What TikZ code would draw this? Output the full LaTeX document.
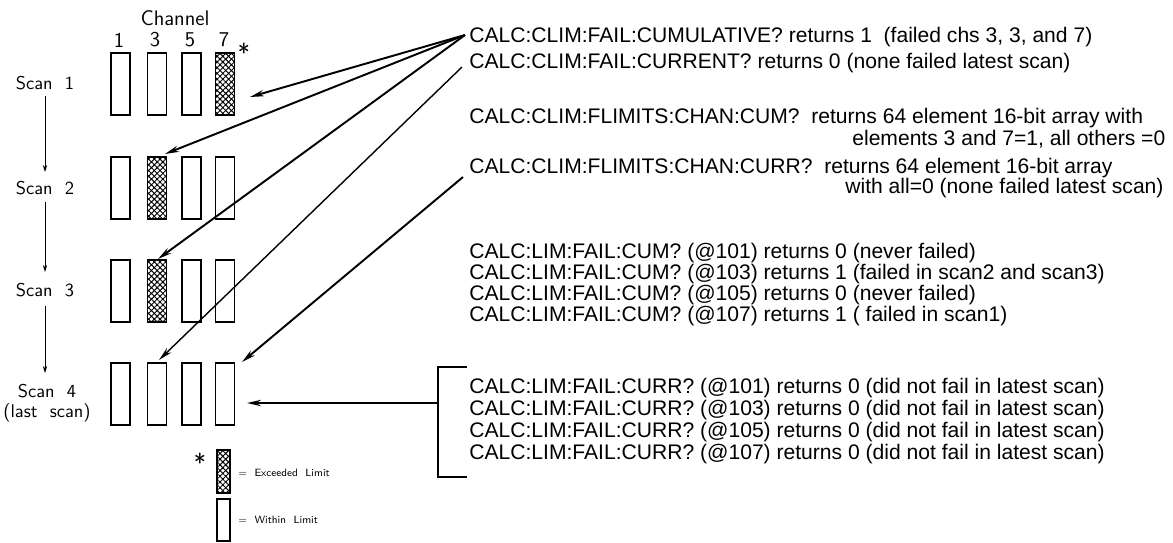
\documentclass[tikz,border=0pt]{standalone}
\usepackage{fontspec}
\newfontfamily\arialfont{Liberation Sans}
\usetikzlibrary{arrows.meta,patterns.meta}
\begin{document}
\begin{tikzpicture}[x=0.02cm,y=-0.02cm,
  bar/.style={draw=black, line width=0.8pt, minimum width=0.38cm, minimum height=1.24cm, inner sep=0pt},
  hatch/.style={postaction={pattern={Lines[angle=45,distance=2.3pt,line width=0.55pt]}},
                postaction={pattern={Lines[angle=-45,distance=2.3pt,line width=0.55pt]}}},
  cmd/.style={anchor=base west, inner sep=0pt, font=\arialfont\fontsize{12}{14}\selectfont},
  lbl/.style={inner sep=0pt, font=\sffamily\fontsize{10.5}{11.4}\selectfont, align=center},
  chl/.style={inner sep=0pt, font=\sffamily\fontsize{12}{14}\selectfont},
  leg/.style={anchor=west, inner sep=0pt, font=\sffamily\fontsize{6}{7}\selectfont},
  ptr/.style={line width=1.1pt, -{Stealth[length=8pt,width=3.6pt]}},
  vflow/.style={line width=0.5pt, -{Stealth[length=4pt,width=2.5pt]}}]
\useasboundingbox (0,0) rectangle (1173,542);

% channel header
\node[chl] (chan) at (175,18) {Channel};
\node[chl] (n1) at (119,40) {1};
\node[chl] (n3) at (155,40) {3};
\node[chl] (n5) at (190,40) {5};
\node[chl] (n7) at (224,40) {7};
\node[chl, font=\sffamily\fontsize{14}{14}\selectfont] (star) at (244,52) {*};

% scan labels
\node[lbl] (s1) at (45,83) {Scan\ \ 1};
\node[lbl] (s2) at (45,188) {Scan\ \ 2};
\node[lbl] (s3) at (45,290) {Scan\ \ 3};
\node[lbl] (s4) at (47,403) {Scan\ \ 4\\(last\ \ scan)};
\draw[vflow] (s1.south) ++(0,6) coordinate (v1a) -- (45,172) coordinate (v1b);
\draw[vflow] (s2.south) ++(0,7) coordinate (v2a) -- (45,272) coordinate (v2b);
\draw[vflow] (s3.south) ++(0,9) coordinate (v3a) -- (45,373) coordinate (v3b);

% bars: rows
\foreach \r/\y in {1/84,2/188,3/291,4/394}{
  \node[bar] (b\r1) at (120.5,\y) {};
  \node[bar] (b\r3) at (157,\y) {};
  \node[bar] (b\r5) at (191.5,\y) {};
  \node[bar] (b\r7) at (225,\y) {};
}
\node[bar,hatch] at (b17) {};
\node[bar,hatch] at (b23) {};
\node[bar,hatch] at (b33) {};

% legend
\node[chl, font=\sffamily\fontsize{14}{14}\selectfont] (lstar) at (200,462) {*};
\node[draw=black, line width=0.8pt, minimum width=0.26cm, minimum height=0.86cm, inner sep=0pt, hatch] (lex) at (223.5,471.5) {};
\node[draw=black, line width=0.8pt, minimum width=0.26cm, minimum height=0.84cm, inner sep=0pt] (lwi) at (223.5,520) {};
\node[leg] (lext) at (238,473) {=\ \ Exceeded\ \ Limit};
\node[leg] (lwit) at (238,520) {=\ \ Within\ \ Limit};

% command texts
\node[cmd] (t1) at (469,42.5) {CALC:CLIM:FAIL:CUMULATIVE? returns 1\ \ (failed chs 3, 3, and 7)};
\node[cmd] (t2) at (469,68.5) {CALC:CLIM:FAIL:CURRENT? returns 0 (none failed latest scan)};
\node[cmd] (t3) at (469,123.5) {CALC:CLIM:FLIMITS:CHAN:CUM?\ \ returns 64 element 16-bit array with};
\node[cmd] (t3b) at (852,145.5) {elements 3 and 7=1, all others =0};
\node[cmd] (t4) at (469,173.5) {CALC:CLIM:FLIMITS:CHAN:CURR?\ \ returns 64 element 16-bit array};
\node[cmd] (t4b) at (845,193.5) {with all=0 (none failed latest scan)};
\node[cmd] (t5) at (469,258.5) {CALC:LIM:FAIL:CUM? (@101) returns 0 (never failed)};
\node[cmd] (t6) at (469,279.5) {CALC:LIM:FAIL:CUM? (@103) returns 1 (failed in scan2 and scan3)};
\node[cmd] (t7) at (469,300.5) {CALC:LIM:FAIL:CUM? (@105) returns 0 (never failed)};
\node[cmd] (t8) at (469,321.5) {CALC:LIM:FAIL:CUM? (@107) returns 1 ( failed in scan1)};
\node[cmd] (t9) at (469,393.5) {CALC:LIM:FAIL:CURR? (@101) returns 0 (did not fail in latest scan)};
\node[cmd] (t10) at (469,415.5) {CALC:LIM:FAIL:CURR? (@103) returns 0 (did not fail in latest scan)};
\node[cmd] (t11) at (469,437.5) {CALC:LIM:FAIL:CURR? (@105) returns 0 (did not fail in latest scan)};
\node[cmd] (t12) at (469,459.5) {CALC:LIM:FAIL:CURR? (@107) returns 0 (did not fail in latest scan)};

% connector end points
\coordinate (c1) at (465,35);
\coordinate (c2) at (462,67);
\coordinate (c4) at (463,177);
\coordinate (p1) at (250,97);
\coordinate (p2) at (165,154);
\coordinate (p3) at (158,259);
\coordinate (p4) at (159,360);
\coordinate (p5) at (242,362);
\coordinate (p6) at (247,403);

\draw[ptr] (c1) -- (p1);
\draw[ptr] (c1) -- (p2);
\draw[ptr] (c1) -- (p3);
\draw[ptr, line width=0.8pt] (c2) -- (p4);
\draw[ptr] (c4) -- (p5);

% bracket
\coordinate (k1) at (467,367);
\coordinate (k2) at (438,367);
\coordinate (k3) at (438,477);
\coordinate (k4) at (467,477);
\coordinate (km) at (438,403);
\draw[line width=1pt] (k1) -- (k2) -- (k3) -- (k4);
\draw[ptr] (km) -- (p6);
\end{tikzpicture}
\end{document}
